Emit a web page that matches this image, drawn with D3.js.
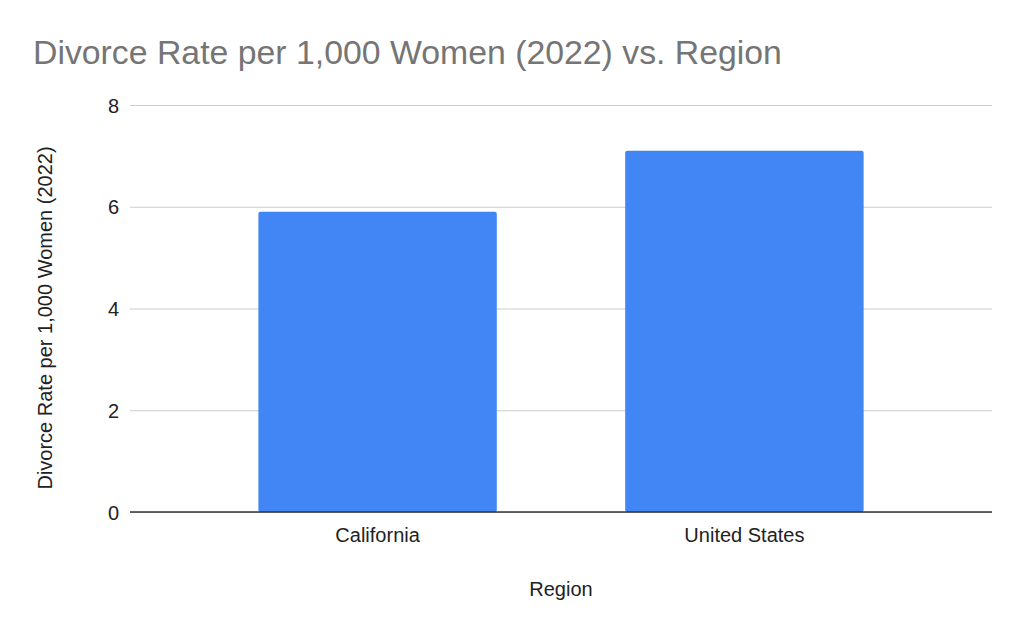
<!DOCTYPE html>
<html>
<head>
  <meta charset="utf-8">
  <title>Divorce Rate per 1,000 Women (2022) vs. Region</title>
  <script src="https://d3js.org/d3.v7.min.js"></script>
  <style>
    body { margin: 0; background: #fff; }
    text { font-family: "Liberation Sans", Arial, sans-serif; }
  </style>
</head>
<body>
<script>
// chart data
var regions = ['California', 'United States'];
var divorceRates = [5.9, 7.1];
var yTicks = [0, 2, 4, 6, 8];

var width = 1024, height = 633;
var margin = { top: 105, right: 32, bottom: 121, left: 130 };

var svg = d3.select('body').append('svg')
  .attr('width', width)
  .attr('height', height);

var x = d3.scaleBand()
  .domain(regions)
  .range([margin.left, width - margin.right])
  .paddingInner(0.35)
  .paddingOuter(0.35);

var y = d3.scaleLinear()
  .domain([0, 8])
  .range([height - margin.bottom, margin.top]);

// title
svg.append('text')
  .attr('x', 33)
  .attr('y', 64)
  .attr('fill', '#757575')
  .style('font-size', '33.8px')
  .text('Divorce Rate per 1,000 Women (2022) vs. Region');

// gridlines + tick labels
var yAxis = d3.axisLeft(y)
  .tickValues(yTicks)
  .tickSize(-(width - margin.left - margin.right))
  .tickPadding(11);

var gy = svg.append('g')
  .attr('transform', 'translate(' + margin.left + ',0)')
  .call(yAxis);
gy.select('.domain').remove();
gy.selectAll('.tick line').attr('stroke', '#cccccc').attr('stroke-width', 1);
gy.selectAll('.tick text')
  .attr('fill', '#222')
  .style('font-size', '20px')
  .attr('dy', '0.35em');

// bars
svg.selectAll('rect.bar')
  .data(divorceRates)
  .enter()
  .append('rect')
  .attr('class', 'bar')
  .attr('x', function(d, i) { return x(regions[i]); })
  .attr('y', function(d) { return y(d); })
  .attr('width', x.bandwidth())
  .attr('height', function(d) { return y(0) - y(d); })
  .attr('rx', 2)
  .attr('fill', '#4285f4');

// baseline + category labels
var xAxis = d3.axisBottom(x).tickSize(0).tickPadding(16);
var gx = svg.append('g')
  .attr('transform', 'translate(0,' + y(0) + ')')
  .call(xAxis);
gx.select('.domain')
  .attr('stroke', '#333')
  .attr('stroke-width', 1.3)
  .attr('d', 'M' + margin.left + ',0H' + (width - margin.right));
gx.selectAll('.tick text')
  .attr('fill', '#222')
  .style('font-size', '20px');

// axis titles
svg.append('text')
  .attr('x', (margin.left + width - margin.right) / 2)
  .attr('y', 596)
  .attr('text-anchor', 'middle')
  .attr('fill', '#222')
  .style('font-size', '20px')
  .text('Region');

svg.append('text')
  .attr('transform', 'translate(52,' + 318 + ') rotate(-90)')
  .attr('text-anchor', 'middle')
  .attr('fill', '#222')
  .style('font-size', '20px')
  .text('Divorce Rate per 1,000 Women (2022)');
</script>
</body>
</html>
